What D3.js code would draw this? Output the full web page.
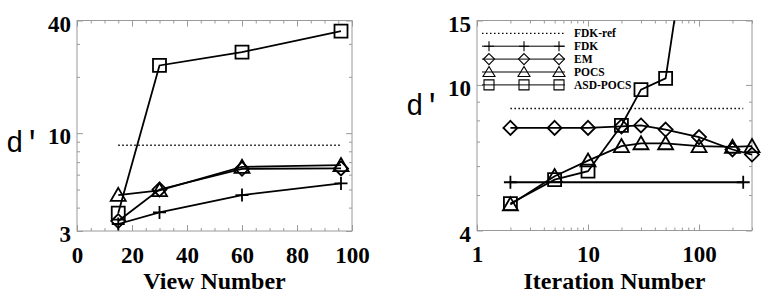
<!DOCTYPE html>
<html><head><meta charset="utf-8">
<script src="https://cdn.jsdelivr.net/npm/d3@7"></script>
<style>
body{margin:0;background:#fff}svg{display:block}
.sf{font-family:"Liberation Serif","Times New Roman",Times,"DejaVu Serif",serif;font-weight:bold}
.mono{font-family:"Liberation Mono","Courier New",Courier,"DejaVu Sans Mono",monospace}
</style>
</head><body><svg id="c" width="762" height="298"></svg>
<script>
// ---- Left panel data (d' vs View Number)
const views = [15, 30, 60, 96];
const fdkViews = [3.27, 3.77, 4.67, 5.39];
const emViews = [3.39, 5.0, 6.45, 6.48];
const pocsViews = [4.67, 4.95, 6.6, 6.74];
const asdViews = [3.74, 23.0, 27.1, 35.1];
const fdkRefViews = [8.62, 8.62];
const fdkRefViewX = [15, 96];
const leftXTicks = [0, 20, 40, 60, 80, 100];
const leftYTicks = [3, 10, 40];
const leftYMinor = [4, 5, 6, 7, 8, 9, 20, 30];

// ---- Right panel data (d' vs Iteration Number)
const iters = [2, 5, 10, 20, 30, 50, 100, 200, 300];
const emIters = [7.63, 7.63, 7.63, 7.7, 7.75, 7.55, 7.2, 6.66, 6.45];
const pocsIters = [4.71, 5.63, 6.21, 6.8, 6.92, 6.92, 6.8, 6.77, 6.8];
const asdIterX = [2, 5, 10, 20, 30, 50, 100];
const asdIters = [4.74, 5.51, 5.81, 7.75, 9.71, 10.42, 42];
const fdkIterX = [2, 250];
const fdkIters = [5.42, 5.42];
const fdkRefIters = [8.62, 8.62];
const rightXTicks = [1, 10, 100];
const rightXMinor = [2,3,4,5,6,7,8,9,20,30,40,50,60,70,80,90,200,300];
const rightYTicks = [4, 10, 15];
const rightYMinor = [5, 6, 7, 8, 9];
const legendLabels = ["FDK-ref", "FDK", "EM", "POCS", "ASD-POCS"];

const svg = d3.select("#c");
svg.append("rect").attr("width", 762).attr("height", 298).attr("fill", "#fff");

const frameColor = "#9a9a9a";

function markerPath(type, s) {
  const h = s / 2;
  if (type === "square") return `M${-h},${-h}H${h}V${h}H${-h}Z`;
  if (type === "diamond") return `M0,${-h - 0.5}L${h + 0.5},0L0,${h + 0.5}L${-h - 0.5},0Z`;
  if (type === "triangle") { const t = s; return `M0,${-t * 0.55}L${h + 1},${t * 0.45}L${-h - 1},${t * 0.45}Z`; }
  if (type === "plus") return `M${-h},0H${h}M0,${-h}V${h}`;
  return "";
}

function drawFrame(g, x, y, xMaj, xMin, yMaj, yMin, W, H) {
  const mk = (axisFn, scale, vals, size) => axisFn(scale).tickValues(vals).tickSize(size).tickFormat("");
  const addAxis = (axis, tx, ty) => {
    const a = g.append("g").attr("transform", `translate(${tx},${ty})`).call(axis);
    a.attr("font-family", null).attr("font-size", null);
    a.select(".domain").remove();
    a.selectAll("line").attr("stroke", frameColor).attr("stroke-width", 1);
    return a;
  };
  addAxis(mk(d3.axisBottom, x, xMin, -3), 0, H);
  addAxis(mk(d3.axisTop, x, xMin, -3), 0, 0);
  addAxis(mk(d3.axisLeft, y, yMin, -3), 0, 0);
  addAxis(mk(d3.axisRight, y, yMin, -3), W, 0);
  addAxis(mk(d3.axisTop, x, xMaj, -6), 0, 0);
  addAxis(mk(d3.axisRight, y, yMaj, -6), W, 0);
  const xb = addAxis(d3.axisBottom(x).tickValues(xMaj).tickSize(-6).tickFormat(d3.format("d")), 0, H);
  xb.selectAll("text").attr("dy", null).attr("y", 31.5).attr("class", "sf")
    .attr("font-size", 23).attr("fill", "#000");
  const yl = addAxis(d3.axisLeft(y).tickValues(yMaj).tickSize(-6).tickFormat(d3.format("d")), 0, 0);
  yl.selectAll("text").attr("dy", null).attr("x", -6).attr("y", 10.5).attr("class", "sf")
    .attr("font-size", 23).attr("fill", "#000");
  g.append("rect").attr("width", W).attr("height", H).attr("fill", "none")
    .attr("stroke", frameColor).attr("stroke-width", 1);
}

function drawSeries(g, x, y, xs, ys, type, clipId, yDom) {
  const pts = xs.map((v, i) => [x(v), y(ys[i])]);
  const p = g.append("path").attr("d", d3.line()(pts)).attr("fill", "none")
    .attr("stroke", "#000").attr("stroke-width", 1.8);
  if (clipId) p.attr("clip-path", `url(#${clipId})`);
  g.selectAll(null).data(xs.map((v, i) => [v, ys[i]]).filter(d => d[1] >= yDom[0] && d[1] <= yDom[1]))
    .enter().append("path")
    .attr("transform", d => `translate(${x(d[0])},${y(d[1])})`)
    .attr("d", markerPath(type, 13))
    .attr("fill", "none").attr("stroke", "#000").attr("stroke-width", 1.8);
}

function drawRef(g, x, y, xs, ys) {
  g.append("path").attr("d", d3.line()(xs.map((v, i) => [x(v), y(ys[i])])))
    .attr("fill", "none").attr("stroke", "#000").attr("stroke-width", 1.5)
    .attr("stroke-dasharray", "1.5,2.5");
}

// ---------------- Left panel
{
  const L = 77, T = 20.5, W = 275, H = 210.5;
  const g = svg.append("g").attr("transform", `translate(${L},${T})`);
  const x = d3.scaleLinear().domain([0, 100]).range([0, W]);
  const yDom = [3, 40];
  const y = d3.scaleLog().domain(yDom).range([H, 0]);
  const xMinor = d3.range(0, 101, 5).filter(v => v % 20 !== 0);
  drawFrame(g, x, y, leftXTicks, xMinor, leftYTicks, leftYMinor, W, H);
  drawRef(g, x, y, fdkRefViewX, fdkRefViews);
  drawSeries(g, x, y, views, fdkViews, "plus", null, yDom);
  drawSeries(g, x, y, views, emViews, "diamond", null, yDom);
  drawSeries(g, x, y, views, pocsViews, "triangle", null, yDom);
  drawSeries(g, x, y, views, asdViews, "square", null, yDom);
  svg.append("text").attr("class", "sf").attr("x", L + W / 2).attr("y", 288.5).attr("text-anchor", "middle")
    .attr("font-size", 24).text("View Number");
  svg.append("text").attr("class", "mono").attr("x", 6).attr("y", 152).attr("font-size", 29).text("d′");
}

// ---------------- Right panel
{
  const L = 477, T = 20.5, W = 275, H = 210;
  const g = svg.append("g").attr("transform", `translate(${L},${T})`);
  g.append("clipPath").attr("id", "clipR").append("rect").attr("width", W).attr("height", H);
  const x = d3.scaleLog().domain([1, 300]).range([0, W]);
  const yDom = [4, 15];
  const y = d3.scaleLog().domain(yDom).range([H, 0]);
  drawFrame(g, x, y, rightXTicks, rightXMinor, rightYTicks, rightYMinor, W, H);
  drawRef(g, x, y, fdkIterX, fdkRefIters);
  drawSeries(g, x, y, fdkIterX, fdkIters, "plus", "clipR", yDom);
  drawSeries(g, x, y, iters, emIters, "diamond", "clipR", yDom);
  drawSeries(g, x, y, iters, pocsIters, "triangle", "clipR", yDom);
  drawSeries(g, x, y, asdIterX, asdIters, "square", "clipR", yDom);

  const types = [null, "plus", "diamond", "triangle", "square"];
  const lg = svg.append("g");
  legendLabels.forEach((lab, i) => {
    const yy = 33.3 + i * 12.9;
    const ln = lg.append("line").attr("x1", 482).attr("x2", 565).attr("y1", yy).attr("y2", yy)
      .attr("stroke", "#000").attr("stroke-width", i === 0 ? 1.3 : 1);
    if (i === 0) ln.attr("stroke-dasharray", "1.5,2.5");
    if (types[i]) {
      [489, 524, 559].forEach(mx => {
        lg.append("path").attr("transform", `translate(${mx},${yy})`).attr("d", markerPath(types[i], 10))
          .attr("fill", "none").attr("stroke", "#000").attr("stroke-width", 1.1);
      });
    }
    lg.append("text").attr("class", "sf").attr("x", 574).attr("y", yy + 4)
      .attr("font-size", 11.5).text(lab);
  });

  svg.append("text").attr("class", "sf").attr("x", L + W / 2).attr("y", 288.5).attr("text-anchor", "middle")
    .attr("font-size", 24).text("Iteration Number");
  svg.append("text").attr("class", "mono").attr("x", 406).attr("y", 115).attr("font-size", 29).text("d′");
}
</script></body></html>
